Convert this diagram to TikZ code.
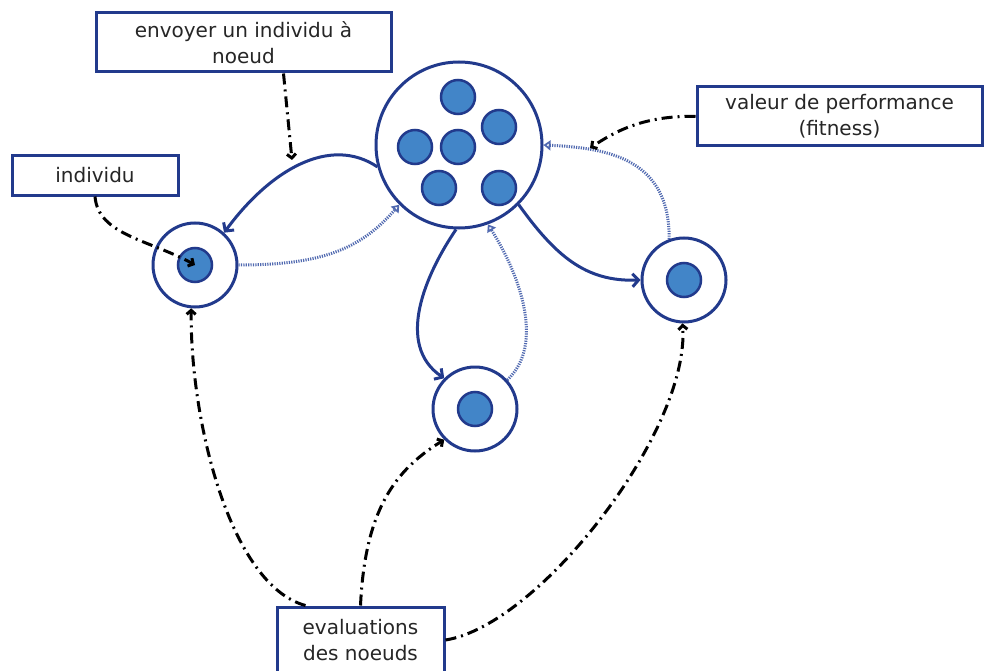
\documentclass[tikz,border=0pt]{standalone}
\usepackage{fontspec}
\setmainfont{DejaVu Sans}
\usetikzlibrary{arrows.meta,calc}
\definecolor{navy}{HTML}{223A8C}
\definecolor{cellfill}{HTML}{4285C8}
\definecolor{linkblue}{HTML}{5069B0}
\tikzset{
  label box/.style={draw=navy, line width=3pt, fill=white, inner sep=0pt,
    align=center, font=\fontsize{20}{26}\selectfont, text=black!85},
  ring/.style={circle, draw=navy, line width=3pt, fill=white, inner sep=0pt},
  cell/.style={circle, draw=navy, line width=2.5pt, fill=cellfill,
    minimum size=34pt, inner sep=0pt},
  send/.style={draw=navy, line width=3pt,
    -{Straight Barb[length=6pt,width=13pt]}},
  reply/.style={draw=linkblue, line width=3pt,
    dash pattern=on 1.2pt off 1.2pt,
    -{Triangle[open,length=7pt,width=10pt]}},
  note/.style={draw=black, line width=3pt,
    dash pattern=on 11pt off 5pt on 2pt off 5pt,
    -{Straight Barb[length=4pt,width=9pt]}},
}
\begin{document}
\begin{tikzpicture}[x=1pt,y=-1pt]
\useasboundingbox (0,0) rectangle (984,671);
\clip (0,0) rectangle (984,671);

% population node with its individuals
\node[ring, minimum size=166pt] (B) at (459,145) {};
\node[cell] (p1) at (458,97) {};
\node[cell] (p2) at (499,127) {};
\node[cell] (p3) at (415,147) {};
\node[cell] (p4) at (458,147) {};
\node[cell] (p5) at (439,188) {};
\node[cell] (p6) at (499,188) {};

% worker nodes
\node[ring, minimum size=84pt] (n1) at (195,265) {};
\node[cell] (c1) at (195,265) {};
\node[ring, minimum size=84pt] (n2) at (475,409) {};
\node[cell] (c2) at (475,409) {};
\node[ring, minimum size=84pt] (n3) at (684,280) {};
\node[cell] (c3) at (684,280) {};

% text boxes
\node[label box, minimum width=295pt, minimum height=59pt] (env) at (243.5,42.5)
  {envoyer un individu à\\noeud};
\node[label box, minimum width=166pt, minimum height=39pt] (ind) at (95,175.5)
  {individu};
\node[label box, minimum width=285pt, minimum height=59pt] (val) at (839.5,116.5)
  {valeur de performance\\(fitness)};
\node[label box, minimum width=167pt, minimum height=82pt, text depth=16pt] (ev) at (360.5,648)
  {evaluations\\des noeuds};

% individuals sent out
\draw[send] (B.195) .. controls (330,135) and (270,170) .. (n1.48);
\draw[send] (B.268) .. controls (425,275) and (395,345) .. (n2.135);
\draw[send] (B.315) .. controls (555,255) and (585,282) .. (n3.180);

% fitness values sent back
\draw[reply] (n1.0) .. controls (320,265) and (360,250) .. (B.225);
\draw[reply] (n2.42) .. controls (545,345) and (520,275) .. (B.290);
\draw[reply] (n3.110) .. controls (670,160) and (610,148) .. (B.0);

% annotations
\coordinate (envtip) at (292,160);
\coordinate (valtip) at (590,148);
\draw[note] ($(env.south)+(40,0)$) -- (envtip);
\draw[note] (ind.south) .. controls (98,235) and (150,240) .. (c1.center);
\draw[note] (val.west) .. controls (640,115) and (610,135) .. (valtip);
\draw[note] ($(ev.north)+(-55,0)$) .. controls (230,585) and (190,420) .. (n1.265);
\draw[note] (ev.north) .. controls (365,510) and (395,470) .. (n2.225);
\draw[note] ($(ev.east)+(0,-8)$) .. controls (540,625) and (690,430) .. (n3.268);
\end{tikzpicture}
\end{document}
